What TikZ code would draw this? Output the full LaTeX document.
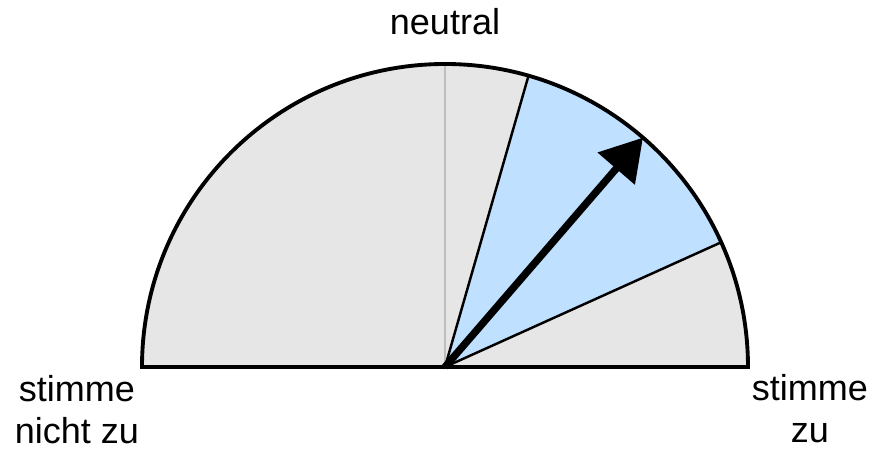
\documentclass[tikz,border=0pt]{standalone}
\usepackage{fontspec}
\setmainfont{Liberation Sans}
\usetikzlibrary{arrows.meta}
\definecolor{dialgray}{HTML}{E6E6E6}
\definecolor{midgray}{HTML}{BEBEBE}
\definecolor{hiblue}{HTML}{BFE0FF}

\begin{document}
\begin{tikzpicture}[x=0.02cm,y=0.02cm,
  font=\fontsize{20.5}{24}\selectfont,
  rim/.style={line width=2.2pt,draw=black,line join=miter},
  spoke/.style={line width=1.4pt,draw=black},
  pointer/.style={line width=4.2pt,draw=black},
  lab/.style={align=center,inner sep=0pt,anchor=base},
  >={Triangle[length=0.82cm,width=0.95cm]}]
\useasboundingbox (-445,-85) rectangle (424,367);
\coordinate (c) at (0,0);
% ---- dial face and highlighted band
\fill[dialgray] (c) -- (0:303) arc[start angle=0,end angle=180,radius=303] -- cycle;
\fill[hiblue] (c) -- (24.3:303) arc[start angle=24.3,end angle=74,radius=303] -- cycle;
\coordinate (lo) at (24.3:303); \coordinate (hi) at (74:303); \coordinate (top) at (90:303);
\draw[midgray,line width=1pt] (c) -- (top);
\draw[spoke] (hi) -- (c) -- (lo);
\draw[rim] (0:303) arc[start angle=0,end angle=180,radius=303] -- cycle;
% ---- pointer
\coordinate (tip) at (49.2:303);
\draw[pointer,->] (c) -- (tip);
% ---- scale labels
\node[lab] (neu) at (0,332) {neutral};
\node[lab] (dis) at (-368,-77) {stimme\\nicht zu};
\node[lab] (agr) at (365,-76) {stimme\\zu};
\end{tikzpicture}
\end{document}
